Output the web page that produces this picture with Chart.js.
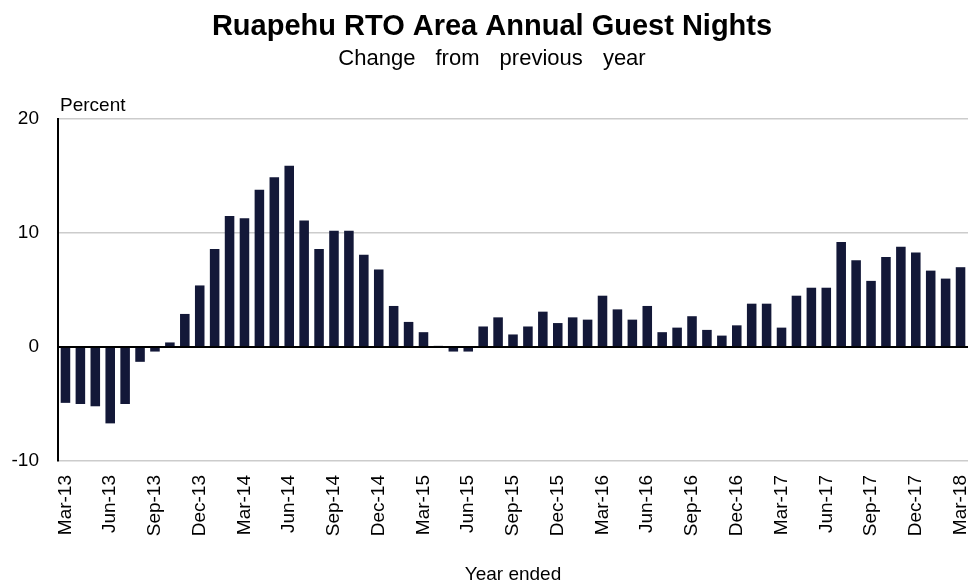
<!DOCTYPE html>
<html>
<head>
<meta charset="utf-8">
<script src="https://cdn.jsdelivr.net/npm/chart.js@4.4.1/dist/chart.umd.min.js"></script>
<style>
  html, body { margin: 0; padding: 0; background: #fff; }
  #wrap { width: 975px; height: 588px; }
</style>
</head>
<body>
<div id="wrap"><canvas id="chart" width="975" height="588"></canvas></div>
<script>
/* ---------- data ---------- */
const months = [
  'Mar-13','Apr-13','May-13','Jun-13','Jul-13','Aug-13','Sep-13','Oct-13','Nov-13','Dec-13','Jan-14','Feb-14',
  'Mar-14','Apr-14','May-14','Jun-14','Jul-14','Aug-14','Sep-14','Oct-14','Nov-14','Dec-14','Jan-15','Feb-15',
  'Mar-15','Apr-15','May-15','Jun-15','Jul-15','Aug-15','Sep-15','Oct-15','Nov-15','Dec-15','Jan-16','Feb-16',
  'Mar-16','Apr-16','May-16','Jun-16','Jul-16','Aug-16','Sep-16','Oct-16','Nov-16','Dec-16','Jan-17','Feb-17',
  'Mar-17','Apr-17','May-17','Jun-17','Jul-17','Aug-17','Sep-17','Oct-17','Nov-17','Dec-17','Jan-18','Feb-18',
  'Mar-18'
];
const pctChange = [
  -4.9, -5.0, -5.2, -6.7, -5.0, -1.3, -0.4,  0.4,  2.9,  5.4,  8.6, 11.5,
  11.3, 13.8, 14.9, 15.9, 11.1,  8.6, 10.2, 10.2,  8.1,  6.8,  3.6,  2.2,
   1.3,  0.1, -0.4, -0.4,  1.8,  2.6,  1.1,  1.8,  3.1,  2.1,  2.6,  2.4,
   4.5,  3.3,  2.4,  3.6,  1.3,  1.7,  2.7,  1.5,  1.0,  1.9,  3.8,  3.8,
   1.7,  4.5,  5.2,  5.2,  9.2,  7.6,  5.8,  7.9,  8.8,  8.3,  6.7,  6.0,
   7.0
];
const yTicks = [-10, 0, 10, 20];

const TITLE    = 'Ruapehu RTO Area Annual Guest Nights';
const SUBTITLE = 'Change from previous year';
const FONT     = 'Arial, "Liberation Sans", sans-serif';

/* ---------- titles drawn on canvas ---------- */
const textPlugin = {
  id: 'texts',
  afterDraw(chart) {
    const ctx = chart.ctx;
    ctx.save();
    ctx.fillStyle = '#000';
    ctx.textAlign = 'center';
    ctx.textBaseline = 'alphabetic';
    ctx.font = 'bold 29px ' + FONT;
    ctx.fillText(TITLE, 492, 35);
    ctx.font = '22px ' + FONT;
    if ('wordSpacing' in ctx) ctx.wordSpacing = '14px';
    ctx.fillText(SUBTITLE, 492, 65);
    if ('wordSpacing' in ctx) ctx.wordSpacing = '0px';
    ctx.textAlign = 'left';
    ctx.font = '19px ' + FONT;
    ctx.fillText('Percent', 60, 111);
    ctx.restore();
  }
};

new Chart(document.getElementById('chart'), {
  type: 'bar',
  data: {
    labels: months,
    datasets: [{
      data: pctChange,
      backgroundColor: '#131838',
      borderWidth: 0,
      barPercentage: 0.64,
      categoryPercentage: 1.0
    }]
  },
  options: {
    responsive: false,
    animation: false,
    layout: { padding: { top: 119, right: 7, bottom: 0, left: 0 } },
    plugins: { legend: { display: false }, tooltip: { enabled: false } },
    scales: {
      x: {
        offset: true,
        grid: { display: false, drawTicks: false },
        border: { display: false },
        ticks: {
          autoSkip: false,
          maxRotation: 90,
          minRotation: 90,
          padding: 14,
          color: '#000',
          font: { family: FONT, size: 19 },
          callback: (v, i) => (i % 3 === 0 ? months[i] : '')
        },
        title: {
          display: true,
          text: 'Year ended',
          color: '#000',
          font: { family: FONT, size: 19 },
          padding: { top: 0, bottom: 2 }
        },
        afterFit: s => { s.height = 127; s.paddingLeft = 0; s.paddingRight = 0; }
      },
      y: {
        min: -10,
        max: 20,
        afterBuildTicks: s => { s.ticks = yTicks.map(v => ({ value: v })); },
        grid: {
          drawTicks: false,
          color: c => (c.tick && c.tick.value === 0 ? '#000' : '#cccccc'),
          lineWidth: c => (c.tick && c.tick.value === 0 ? 2 : 1.5)
        },
        border: { display: true, color: '#000', width: 2 },
        ticks: {
          padding: 19,
          color: '#000',
          font: { family: FONT, size: 19 }
        },
        afterFit: s => { s.width = 58; }
      }
    }
  },
  plugins: [textPlugin]
});
</script>
</body>
</html>
